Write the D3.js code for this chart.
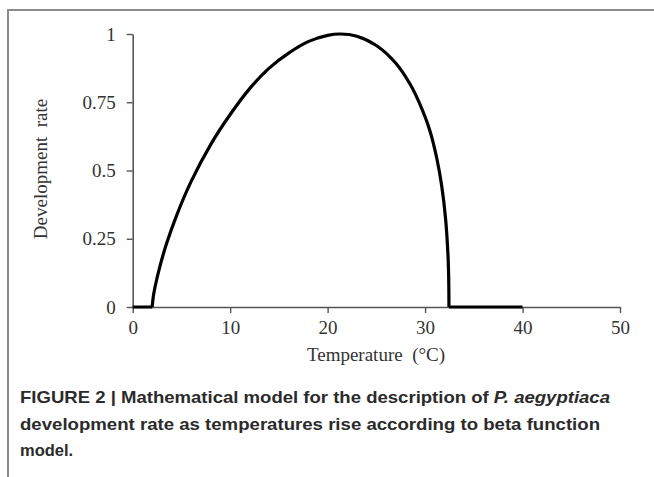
<!DOCTYPE html>
<html>
<head>
<meta charset="utf-8">
<script src="https://cdn.jsdelivr.net/npm/d3@7"></script>
<style>
  body { margin: 0; background: #fff; }
  svg { display: block; }
</style>
</head>
<body>
<svg></svg>
<script>
var width = 654;
var height = 477;

// development rate curve (temperature in °C)
var temps = [2, 2.1, 2.3, 2.8, 3.5, 4.5, 6, 8, 10, 12, 14, 16, 18, 20, 21.3, 23, 25, 27, 28.5, 29.5, 30.5, 31.2, 31.7, 32.1, 32.35, 32.42, 32.45];
var rates = [0, 0.035, 0.075, 0.15, 0.235, 0.335, 0.46, 0.595, 0.705, 0.8, 0.875, 0.93, 0.972, 0.995, 1.0, 0.992, 0.958, 0.893, 0.814, 0.74, 0.645, 0.545, 0.445, 0.325, 0.19, 0.11, 0];

// flat zero parts either side of the curve
var lowFlat = [0, 2];
var highFlat = [32.45, 40];

var xTicks = [0, 10, 20, 30, 40, 50];
var yTicks = [0, 0.25, 0.5, 0.75, 1];
var yTickLabels = ["0", "0.25", "0.5", "0.75", "1"];

var captionLines = [
  [{t: "FIGURE 2 | Mathematical model for the description of ", i: false}, {t: "P. aegyptiaca", i: true}],
  [{t: "development rate as temperatures rise according to beta function", i: false}],
  [{t: "model.", i: false}]
];

var svg = d3.select("svg")
    .attr("width", width)
    .attr("height", height);

// frame round the figure
svg.append("path")
    .attr("d", "M8,477 L8,10 L654,10")
    .attr("fill", "none")
    .attr("stroke", "#8a8a8a")
    .attr("stroke-width", 2);

var xScale = d3.scaleLinear()
  .domain([0, 50])
  .range([132.7, 620]);

var yScale = d3.scaleLinear()
  .domain([0, 1])
  .range([307, 34]);

var xAxis = svg.append("g")
    .attr("transform", "translate(0," + yScale(0) + ")")
    .call(d3.axisBottom(xScale).tickValues(xTicks).tickFormat(d3.format("d"))
      .tickSize(6).tickSizeOuter(0).tickPadding(8));

var yAxis = svg.append("g")
    .attr("transform", "translate(" + xScale(0) + ",0)")
    .call(d3.axisLeft(yScale).tickValues(yTicks).tickFormat((d, i) => yTickLabels[i])
      .tickSize(6).tickSizeOuter(0).tickPadding(11));

[xAxis, yAxis].forEach(g => {
  g.select(".domain").attr("stroke", "#555").attr("stroke-width", 1.6);
  g.selectAll(".tick line").attr("stroke", "#555").attr("stroke-width", 1.4);
  g.selectAll(".tick text")
    .attr("fill", "#333")
    .style("font-family", "'Liberation Serif', 'Times New Roman', serif")
    .style("font-size", "19px");
});

// axis titles
svg.append("text")
    .attr("x", 376)
    .attr("y", 361)
    .attr("text-anchor", "middle")
    .attr("fill", "#333")
    .style("font-family", "'Liberation Serif', 'Times New Roman', serif")
    .style("font-size", "19px")
    .style("white-space", "pre")
    .text("Temperature  (°C)");

svg.append("text")
    .attr("transform", "translate(47,169) rotate(-90)")
    .attr("text-anchor", "middle")
    .attr("fill", "#333")
    .style("font-family", "'Liberation Serif', 'Times New Roman', serif")
    .style("font-size", "19px")
    .style("white-space", "pre")
    .text("Development  rate");

// the curve
var curveLine = d3.line()
  .x((d, i) => xScale(temps[i]))
  .y(d => yScale(d))
  .curve(d3.curveCatmullRom.alpha(0.5));

var flatLine = d3.line()
  .x(d => xScale(d))
  .y(yScale(0));

svg.append("path")
    .attr("d", curveLine(rates))
    .attr("fill", "none")
    .attr("stroke", "#000")
    .attr("stroke-width", 3.2)
    .attr("stroke-linejoin", "round");

[lowFlat, highFlat].forEach(seg => {
  svg.append("path")
      .attr("d", flatLine(seg))
      .attr("fill", "none")
      .attr("stroke", "#000")
      .attr("stroke-width", 3);
});

// caption
var caption = svg.append("g")
    .attr("fill", "#2b2b2b")
    .style("font-family", "'Liberation Sans', Arial, sans-serif")
    .style("font-weight", "bold")
    .style("font-size", "16.5px");

var captionWidths = [590, 580, null];
captionLines.forEach((line, k) => {
  var t = caption.append("text")
      .attr("x", 20)
      .attr("y", 403 + k * 26.5);
  if (captionWidths[k]) t.attr("textLength", captionWidths[k]).attr("lengthAdjust", "spacingAndGlyphs");
  line.forEach(p => {
    t.append("tspan")
        .style("font-style", p.i ? "italic" : "normal")
        .text(p.t);
  });
});
</script>
</body>
</html>
